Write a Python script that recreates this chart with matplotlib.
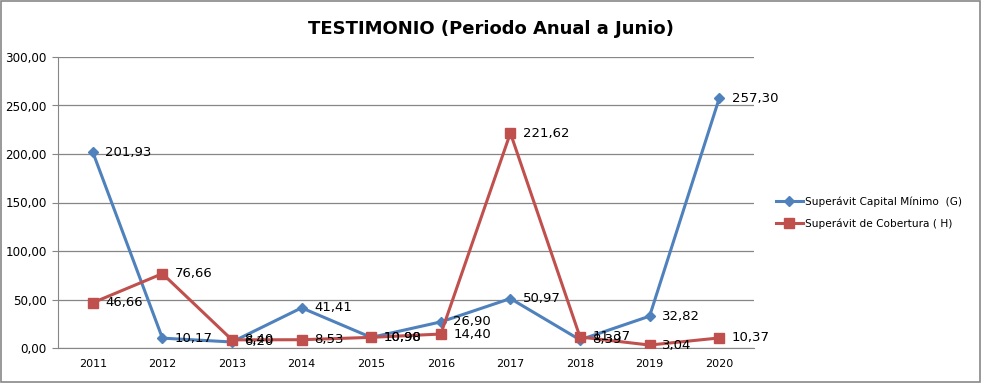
import matplotlib.pyplot as plt
from matplotlib.patches import Rectangle

# data
years = ['2011', '2012', '2013', '2014', '2015', '2016', '2017', '2018', '2019', '2020']
capital_g = [201.93, 10.17, 6.20, 41.41, 10.90, 26.90, 50.97, 8.39, 32.82, 257.30]
cobertura_h = [46.66, 76.66, 8.40, 8.53, 10.98, 14.40, 221.62, 11.37, 3.04, 10.37]
y_ticks = [0, 50, 100, 150, 200, 250, 300]

blue = '#4F81BD'
red = '#C0504D'
grid_c = '#868686'

def fmt(v):
    return f'{v:.2f}'.replace('.', ',')

fig = plt.figure(figsize=(9.82, 3.83), dpi=100)
fig.patches.append(Rectangle((0.001, 0.002), 0.997, 0.995, transform=fig.transFigure,
                             fill=False, edgecolor='#888888', linewidth=1.2))
ax = fig.add_axes([58 / 982, 35 / 383, 696 / 982, 291 / 383])

x = list(range(len(years)))
ax.plot(x, capital_g, color=blue, lw=2.2, marker='D', ms=5.5, label='Superávit Capital Mínimo  (G)', zorder=3)
ax.plot(x, cobertura_h, color=red, lw=2.2, marker='s', ms=7, label='Superávit de Cobertura ( H)', zorder=3)

for xi, v in zip(x, capital_g):
    ax.annotate(fmt(v), (xi, v), xytext=(9, 0), textcoords='offset points',
                va='center', ha='left', fontsize=9.5, zorder=4)
for xi, v in zip(x, cobertura_h):
    ax.annotate(fmt(v), (xi, v), xytext=(9, 0), textcoords='offset points',
                va='center', ha='left', fontsize=9.5, zorder=4)

ax.set_xlim(-0.5, len(years) - 0.5)
ax.set_ylim(0, 300)
ax.set_xticks(x)
ax.set_xticklabels(years, fontsize=8)
ax.set_yticks(y_ticks)
ax.set_yticklabels([fmt(t) for t in y_ticks], fontsize=8.6)
ax.tick_params(axis='x', length=0, pad=8)
ax.tick_params(axis='y', length=4, color=grid_c, pad=4)
ax.yaxis.grid(True, color=grid_c, lw=0.9)
ax.set_axisbelow(True)
for s in ['top', 'right']:
    ax.spines[s].set_visible(False)
ax.spines['left'].set_color(grid_c)
ax.spines['bottom'].set_color(grid_c)

fig.text(0.5, 0.925, 'TESTIMONIO (Periodo Anual a Junio)', ha='center', va='center',
         fontsize=13, fontweight='bold')

fig.legend(loc='center left', bbox_to_anchor=(766 / 982, 0.445), frameon=False,
           fontsize=7.6, handlelength=2.6, labelspacing=1.1, handletextpad=0.15)

fig.savefig('out.png', dpi=100)
